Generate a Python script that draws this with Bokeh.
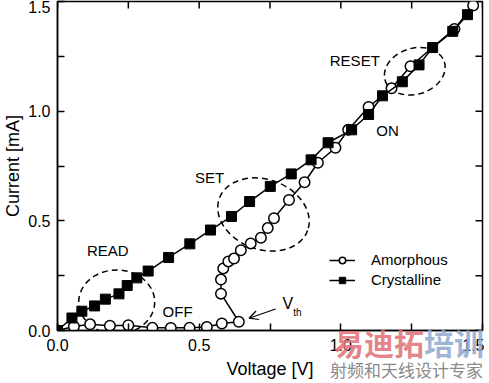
import math
from bokeh.plotting import figure
from bokeh.layouts import column
from bokeh.models import (Range1d, FixedTicker, Label, Arrow, OpenHead,
                          Legend, LegendItem, PrintfTickFormatter, Div)
from bokeh.embed import file_html
from bokeh.resources import INLINE

# ---------------- data ----------------
amorph_v = [0.0, 0.058, 0.115, 0.185, 0.25, 0.335, 0.40, 0.466, 0.527, 0.58, 0.64,
            0.577, 0.577, 0.585, 0.603, 0.623, 0.647, 0.682, 0.718, 0.742, 0.764,
            0.817, 0.872, 0.919, 0.981, 1.026, 1.098, 1.179, 1.246, 1.401, 1.467]
amorph_i = [0.0, 0.018, 0.028, 0.022, 0.024, 0.012, 0.012, 0.012, 0.016, 0.032, 0.040,
            0.168, 0.232, 0.283, 0.315, 0.328, 0.366, 0.397, 0.423, 0.467, 0.512,
            0.595, 0.676, 0.765, 0.833, 0.915, 1.019, 1.104, 1.205, 1.375, 1.482]

cryst_v = [0.0, 0.051, 0.086, 0.131, 0.169, 0.217, 0.246, 0.28, 0.32, 0.392, 0.467,
           0.54, 0.614, 0.678, 0.751, 0.825, 0.895, 0.955, 1.038, 1.098, 1.147,
           1.217, 1.276, 1.324, 1.395, 1.447]
cryst_i = [0.0, 0.057, 0.088, 0.112, 0.143, 0.167, 0.205, 0.24, 0.271, 0.333, 0.395,
           0.458, 0.52, 0.588, 0.657, 0.714, 0.778, 0.856, 0.915, 0.985, 1.07,
           1.134, 1.211, 1.29, 1.364, 1.44]

series_names = ["Amorphous", "Crystalline"]
major_ticks = [0.0, 0.5, 1.0, 1.5]
minor_ticks = [0.25, 0.75, 1.25]

FONT = "Liberation Sans"

p = figure(width=484, height=381, x_range=Range1d(0, 1.5), y_range=Range1d(0, 1.5),
           output_backend="svg", toolbar_location=None,
           min_border_left=53, min_border_right=2, min_border_top=1, min_border_bottom=40,
           background_fill_color="white", border_fill_color="white")
p.xgrid.visible = False
p.ygrid.visible = False
p.outline_line_color = "black"
p.outline_line_width = 1.5

bottom_ax = p.below[0]
left_ax = p.left[0]

for ax in [bottom_ax, left_ax]:
    ax.ticker = FixedTicker(ticks=major_ticks, minor_ticks=minor_ticks)
    ax.formatter = PrintfTickFormatter(format="%.1f")
    ax.major_tick_in = 7
    ax.major_tick_out = 0
    ax.minor_tick_in = 7
    ax.minor_tick_out = 0
    ax.major_tick_line_width = 1.5
    ax.minor_tick_line_width = 1.5
    ax.axis_line_width = 1.5
    ax.major_tick_line_color = "black"
    ax.minor_tick_line_color = "black"
    ax.axis_line_color = "black"
    ax.major_label_text_font = FONT
    ax.major_label_text_font_size = "16px"
    ax.major_label_text_color = "black"
    ax.axis_label_text_font = FONT
    ax.axis_label_text_font_size = "18px"
    ax.axis_label_text_font_style = "normal"
    ax.axis_label_text_color = "black"

bottom_ax.major_label_standoff = 8
left_ax.major_label_standoff = 7
bottom_ax.axis_label = "Voltage [V]"
left_ax.axis_label = "Current [mA]"
bottom_ax.axis_label_standoff = 5
left_ax.axis_label_standoff = 2

# inward ticks on the top and right edges of the frame (half of each dash is clipped)
all_ticks = major_ticks + minor_ticks
x_end = p.x_range.end
y_end = p.y_range.end
p.scatter(x=all_ticks, y=[y_end] * len(all_ticks), marker="dash", size=14,
          angle=math.pi / 2, line_color="black", line_width=1.5)
p.scatter(x=[x_end] * len(all_ticks), y=all_ticks, marker="dash", size=14,
          angle=0.0, line_color="black", line_width=1.5)

# ---------------- dashed ellipses (annotations) ----------------
p.ellipse(x=[0.209, 0.727, 1.261], y=[0.130, 0.529, 1.182],
          width=[76, 94, 62], height=[64, 70, 46], angle=[0.0, -0.35, 0.3],
          width_units="screen", height_units="screen",
          fill_color=None, line_color="black", line_width=1.5, line_dash="6 4")

# ---------------- series ----------------
la = p.line(amorph_v, amorph_i, line_color="black", line_width=1.5)
sa = p.scatter(amorph_v, amorph_i, marker="circle", size=10.5, fill_color="white",
               line_color="black", line_width=1.5)
lc = p.line(cryst_v, cryst_i, line_color="black", line_width=1.5)
sc = p.scatter(cryst_v, cryst_i, marker="square", size=10, fill_color="black",
               line_color="black", line_width=1)

legend = Legend(items=[LegendItem(label=series_names[0], renderers=[la, sa]),
                       LegendItem(label=series_names[1], renderers=[lc, sc])],
                location=(272, 42), orientation="vertical",
                glyph_width=26, glyph_height=16, label_height=16, spacing=3,
                label_standoff=16, padding=0, margin=0,
                border_line_color=None, background_fill_alpha=0,
                label_text_font=FONT, label_text_font_size="15px", label_text_color="black")
p.add_layout(legend)

# ---------------- text annotations ----------------
def lab(x, y, t, size="15px", **kw):
    p.add_layout(Label(x=x, y=y, text=t, text_font=FONT, text_font_size=size,
                       text_color="black", text_baseline="middle", text_align="left", **kw))

lab(0.104, 0.364, "READ")
lab(0.371, 0.085, "OFF")
lab(0.485, 0.698, "SET")
lab(0.961, 1.233, "RESET")
lab(1.125, 0.910, "ON")
lab(0.794, 0.124, "V", size="16px")
lab(0.832, 0.080, "th", size="10px")

p.add_layout(Arrow(end=OpenHead(size=9, line_width=1.2, line_color="black"),
                   x_start=0.770, y_start=0.098, x_end=0.676, y_end=0.056,
                   line_width=1.2, line_color="black"))

# ---------------- watermark (HTML overlay) ----------------
wm_html = (
    '<div style="position:relative;width:160px;height:58px;pointer-events:none">'
    '<div style="position:absolute;left:0;top:0;white-space:nowrap;'
    'font:bold 30px \'Noto Sans CJK SC\';line-height:30px">'
    '<span style="color:rgba(226,115,122,0.9)">易迪拓</span>'
    '<span style="color:rgba(147,170,208,0.9)">培训</span></div>'
    '<div style="position:absolute;left:-4px;top:34px;white-space:nowrap;'
    'font:17px \'Noto Sans CJK SC\';line-height:18px;color:#8a8a8a">射频和天线设计专家</div>'
    '</div>'
)
wm = Div(text=wm_html, width=160, height=58,
         styles={"position": "absolute", "left": "329px", "top": "322px", "z-index": "10"})

layout = column(p, wm)
open("out.html", "w").write(file_html(layout, INLINE))
